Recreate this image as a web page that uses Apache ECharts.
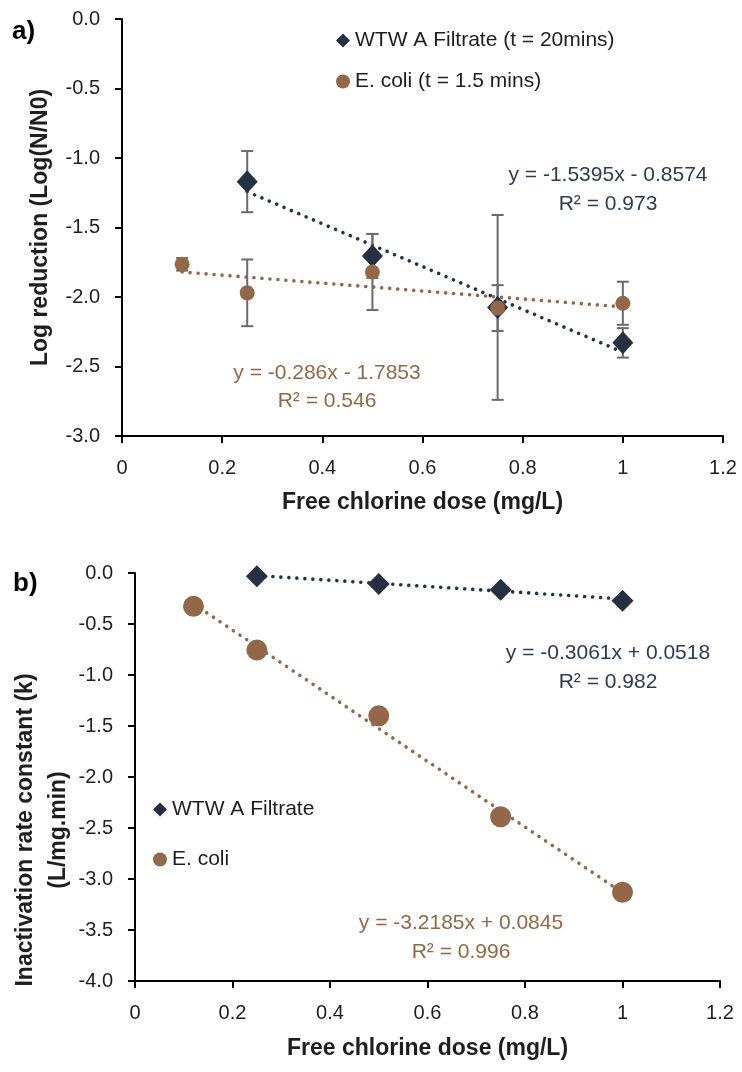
<!DOCTYPE html>
<html>
<head>
<meta charset="utf-8">
<script src="https://cdn.jsdelivr.net/npm/echarts@6/dist/echarts.min.js"></script>
<style>
html,body{margin:0;padding:0;background:#fff;}
#c{width:742px;height:1072px;}
</style>
</head>
<body>
<div id="c"></div>
<script>
// ---------- data ----------
const doseE = [0.12, 0.25, 0.5, 0.75, 1];
const doseW = [0.25, 0.5, 0.75, 1];

// panel a: log reduction
const logRedW = [-1.17, -1.705, -2.075, -2.33];
const logRedWErr = [0.22, 0.158, 0.665, 0.106];
const logRedE = [-1.765, -1.97, -1.82, -2.08, -2.045];
const logRedEErr = [0.045, 0.24, 0.274, 0.165, 0.155];

// panel b: inactivation rate constant
const kW = [-0.033, -0.108, -0.164, -0.272];
const kE = [-0.327, -0.756, -1.40, -2.39, -3.13];

// trendline end points (as drawn)
const trendAW = [[0.25, -1.242], [1, -2.397]];
const trendAE = [[0.12, -1.820], [1, -2.071]];
const trendBW = [[0.25, -0.025], [1, -0.254]];
const trendBE = [[0.12, -0.302], [1, -3.134]];

// labels
const xTickLabels = ['0', '0.2', '0.4', '0.6', '0.8', '1', '1.2'];
const nameAW = 'WTW A Filtrate (t = 20mins)';
const nameAE = 'E. coli (t = 1.5 mins)';
const nameBW = 'WTW A Filtrate';
const nameBE = 'E. coli';
const eqAW = ['y = -1.5395x - 0.8574', 'R² = 0.973'];
const eqAE = ['y = -0.286x - 1.7853', 'R² = 0.546'];
const eqBW = ['y = -0.3061x + 0.0518', 'R² = 0.982'];
const eqBE = ['y = -3.2185x + 0.0845', 'R² = 0.996'];

// ---------- styles ----------
const NAVY = '#253143';
const BROWN = '#936848';
const EQNAVY = '#2f3b4e';
const ERR = '#6a6a6a';
const TXT = '#1e1e1e';
const FONT = '"Liberation Sans", Arial, sans-serif';

const zip = (xs, ys) => xs.map((x, i) => [x, ys[i]]);
const zip3 = (xs, ys, es) => xs.map((x, i) => [x, ys[i], es[i]]);

function xAxisCfg(gi) {
  return {
    gridIndex: gi, type: 'value', min: 0, max: 1.2, interval: 0.2,
    name: 'Free chlorine dose (mg/L)', nameLocation: 'middle', nameGap: gi === 0 ? 55 : 56,
    nameTextStyle: {fontFamily: FONT, fontSize: 23, fontWeight: 'bold', color: TXT},
    axisLine: {onZero: false, lineStyle: {color: '#000', width: 2}},
    axisTick: {show: true, inside: false, length: 7, lineStyle: {color: '#000', width: 2}},
    axisLabel: {fontFamily: FONT, fontSize: 20, color: TXT, margin: 22,
      formatter: v => xTickLabels[Math.round(v / 0.2)]},
    splitLine: {show: false}
  };
}
function yAxisCfg(gi, min, name, gap) {
  return {
    gridIndex: gi, type: 'value', min: min, max: 0, interval: 0.5,
    name: name, nameLocation: 'middle', nameGap: gap, nameRotate: 90,
    nameTextStyle: {fontFamily: FONT, fontSize: 23, fontWeight: 'bold', color: TXT},
    axisLine: {onZero: false, lineStyle: {color: '#000', width: 2}},
    axisTick: {show: true, inside: false, length: 7, lineStyle: {color: '#000', width: 2}},
    axisLabel: {fontFamily: FONT, fontSize: 20, color: TXT, margin: 22,
      formatter: v => v.toFixed(1)},
    splitLine: {show: false}
  };
}

function errSeries(gi, data) {
  return {
    type: 'custom', xAxisIndex: gi, yAxisIndex: gi, data: data, z: 2, silent: true,
    encode: {x: 0, y: 1},
    renderItem: function (params, api) {
      const x = api.value(0), y = api.value(1), e = api.value(2);
      const t = api.coord([x, y + e]);
      const b = api.coord([x, y - e]);
      const hw = 6;
      const st = {stroke: ERR, lineWidth: 2};
      return {type: 'group', children: [
        {type: 'line', shape: {x1: t[0], y1: t[1], x2: b[0], y2: b[1]}, style: st},
        {type: 'line', shape: {x1: t[0] - hw, y1: t[1], x2: t[0] + hw, y2: t[1]}, style: st},
        {type: 'line', shape: {x1: b[0] - hw, y1: b[1], x2: b[0] + hw, y2: b[1]}, style: st}
      ]};
    }
  };
}
function trendSeries(gi, name, data, color) {
  return {
    type: 'line', name: name, xAxisIndex: gi, yAxisIndex: gi, data: data,
    symbol: 'none', silent: true, z: 1,
    lineStyle: {color: color, width: 3.6, type: [0.01, 8], cap: 'round'}
  };
}
function eqText(lines, cx, cy1, cy2, color) {
  return [
    {type: 'text', x: cx, y: cy1, style: {text: lines[0], fill: color, font: '21px ' + FONT, align: 'center', verticalAlign: 'middle'}},
    {type: 'text', x: cx, y: cy2, style: {text: lines[1], fill: color, font: '21px ' + FONT, align: 'center', verticalAlign: 'middle'}}
  ];
}

const option = {
  backgroundColor: '#fff',
  animation: false,
  grid: [
    {left: 122, top: 19, width: 601, height: 417},
    {left: 135, top: 573, width: 585, height: 408}
  ],
  xAxis: [xAxisCfg(0), xAxisCfg(1)],
  yAxis: [
    yAxisCfg(0, -3, 'Log reduction (Log(N/N0)', 70),
    Object.assign(yAxisCfg(1, -4, '', 65), {name: ''})
  ],
  legend: [
    {
      orient: 'vertical', left: 331, top: 25, itemWidth: 14, itemHeight: 14, itemGap: 20,
      textStyle: {fontFamily: FONT, fontSize: 21, color: TXT}, selectedMode: false,
      data: [{name: nameAW, icon: 'diamond'}, {name: nameAE, icon: 'circle'}]
    },
    {
      orient: 'vertical', left: 148, top: 794, itemWidth: 14, itemHeight: 14, itemGap: 29,
      textStyle: {fontFamily: FONT, fontSize: 21, color: TXT}, selectedMode: false,
      data: [{name: nameBW, icon: 'diamond'}, {name: nameBE, icon: 'circle'}]
    }
  ],
  series: [
    // panel a
    errSeries(0, zip3(doseW, logRedW, logRedWErr)),
    errSeries(0, zip3(doseE, logRedE, logRedEErr)),
    trendSeries(0, 'trendAW', trendAW, NAVY),
    trendSeries(0, 'trendAE', trendAE, BROWN),
    {type: 'scatter', name: nameAW, xAxisIndex: 0, yAxisIndex: 0, data: zip(doseW, logRedW),
      symbol: 'diamond', symbolSize: [21, 23], itemStyle: {color: NAVY, opacity: 1}, z: 3},
    {type: 'scatter', name: nameAE, xAxisIndex: 0, yAxisIndex: 0, data: zip(doseE, logRedE),
      symbol: 'circle', symbolSize: 15, itemStyle: {color: BROWN, opacity: 1}, z: 3},
    // panel b
    trendSeries(1, 'trendBW', trendBW, NAVY),
    trendSeries(1, 'trendBE', trendBE, BROWN),
    {type: 'scatter', name: nameBW, xAxisIndex: 1, yAxisIndex: 1, data: zip(doseW, kW),
      symbol: 'diamond', symbolSize: [22, 22], itemStyle: {color: NAVY, opacity: 1}, z: 3},
    {type: 'scatter', name: nameBE, xAxisIndex: 1, yAxisIndex: 1, data: zip(doseE, kE),
      symbol: 'circle', symbolSize: 21, itemStyle: {color: BROWN, opacity: 1}, z: 3}
  ],
  graphic: [
    {type: 'text', x: 12, y: 32, style: {text: 'a)', fill: '#000', font: 'bold 26px ' + FONT, verticalAlign: 'middle'}},
    {type: 'text', x: 13, y: 584, style: {text: 'b)', fill: '#000', font: 'bold 26px ' + FONT, verticalAlign: 'middle'}},
    {type: 'text', x: 42, y: 830, rotation: Math.PI / 2,
      style: {text: 'Inactivation rate constant (k)\n(L/mg.min)', fill: TXT, font: 'bold 23px ' + FONT,
        align: 'center', verticalAlign: 'middle', lineHeight: 33}},
    ...eqText(eqAW, 608, 175, 204, EQNAVY),
    ...eqText(eqAE, 327, 373, 401, BROWN),
    ...eqText(eqBW, 608, 653, 682, EQNAVY),
    ...eqText(eqBE, 461, 923, 952, BROWN)
  ]
};

const chart = echarts.init(document.getElementById('c'), null, {renderer: 'canvas'});
chart.setOption(option);
</script>
</body>
</html>
